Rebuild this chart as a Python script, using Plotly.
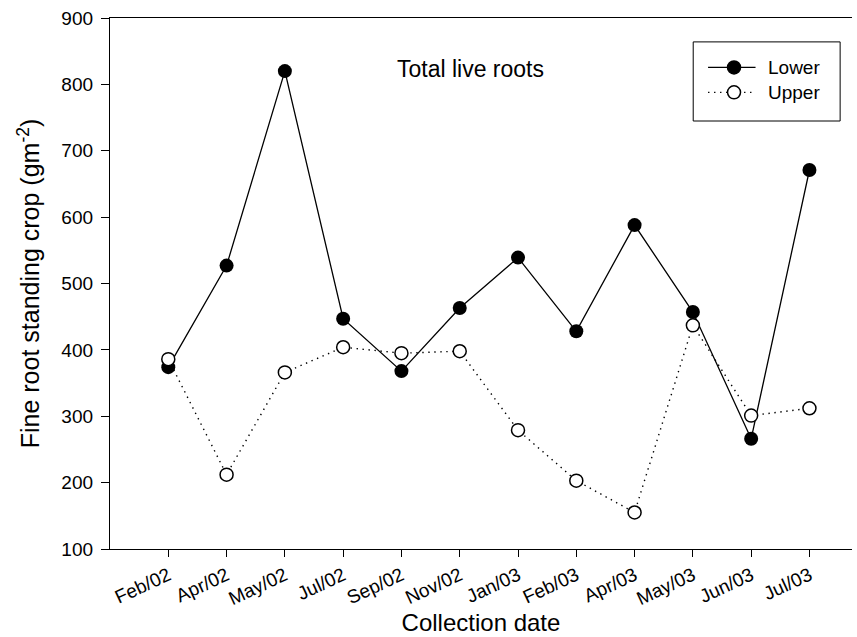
import plotly.graph_objects as go

# Collection dates and fine-root standing crop (g m^-2) per soil layer
dates = ["Feb/02", "Apr/02", "May/02", "Jul/02", "Sep/02", "Nov/02",
         "Jan/03", "Feb/03", "Apr/03", "May/03", "Jun/03", "Jul/03"]
lower = [374, 527, 820, 447, 368, 463, 539, 428, 588, 457, 266, 671]
upper = [386, 212, 366, 404, 395, 398, 279, 203, 155, 437, 301, 312]
y_ticks = [100, 200, 300, 400, 500, 600, 700, 800, 900]

FONT = "Liberation Sans, Arial, sans-serif"
DOTS = "1.4px,4.6px"

fig = go.Figure()
fig.add_trace(go.Scatter(
    x=dates, y=lower, name="Lower", mode="lines+markers",
    line=dict(color="black", width=1.3),
    marker=dict(symbol="circle", size=14, color="black"),
))
fig.add_trace(go.Scatter(
    x=dates, y=upper, name="Upper", mode="lines+markers",
    line=dict(color="black", width=1.4, dash=DOTS),
    marker=dict(symbol="circle", size=13, color="white",
                line=dict(color="black", width=1.5)),
))

# Hand-built legend box in the upper right
lx0, lx1, ly0, ly1 = 0.786, 0.984, 0.806, 0.955
shapes = [dict(type="rect", xref="paper", yref="paper",
               x0=lx0, x1=lx1, y0=ly0, y1=ly1,
               line=dict(color="black", width=1), fillcolor="white")]
rows = [("Lower", 0.907, "solid", "black"), ("Upper", 0.860, DOTS, "white")]
annotations = []
for label, yy, dash, fill in rows:
    shapes.append(dict(type="line", xref="paper", yref="paper",
                       x0=0.806, x1=0.870, y0=yy, y1=yy,
                       line=dict(color="black", width=1.4, dash=dash)))
    shapes.append(dict(type="circle", xref="paper", yref="paper",
                       xsizemode="pixel", ysizemode="pixel",
                       xanchor=0.841, yanchor=yy,
                       x0=-6.5, x1=6.5, y0=-6.5, y1=6.5,
                       fillcolor=fill, line=dict(color="black", width=1.5)))
    annotations.append(dict(xref="paper", yref="paper", x=0.884, y=yy,
                            text=label, showarrow=False, xanchor="left",
                            yanchor="middle",
                            font=dict(family=FONT, size=19, color="black")))

annotations.append(dict(xref="paper", yref="paper", x=0.486, y=0.904,
                        text="Total live roots", showarrow=False,
                        xanchor="center", yanchor="middle",
                        font=dict(family=FONT, size=23, color="black")))

fig.update_layout(
    width=857, height=637,
    margin=dict(l=110, r=5, t=18, b=88),
    paper_bgcolor="white", plot_bgcolor="white",
    showlegend=False,
    font=dict(family=FONT, size=18, color="black"),
    shapes=shapes, annotations=annotations,
    xaxis=dict(
        type="category", categoryorder="array", categoryarray=dates,
        range=[-1, 11.73],
        showline=True, linecolor="black", linewidth=1.3, mirror=True,
        ticks="outside", ticklen=7, tickwidth=1, tickcolor="black",
        tickangle=-25, showgrid=False, zeroline=False,
        tickfont=dict(family=FONT, size=19),
        title=dict(text="Collection date", standoff=6,
                   font=dict(family=FONT, size=24)),
    ),
    yaxis=dict(
        range=[100, 900], tickvals=y_ticks,
        showline=True, linecolor="black", linewidth=1.3,
        ticks="outside", ticklen=8, tickwidth=1, tickcolor="black",
        ticklabelstandoff=4,
        showgrid=False, zeroline=False,
        tickfont=dict(family=FONT, size=19),
        title=dict(text="Fine root standing crop (gm<sup>-2</sup>)",
                   standoff=14, font=dict(family=FONT, size=25)),
    ),
)

fig.write_html("out.html")
